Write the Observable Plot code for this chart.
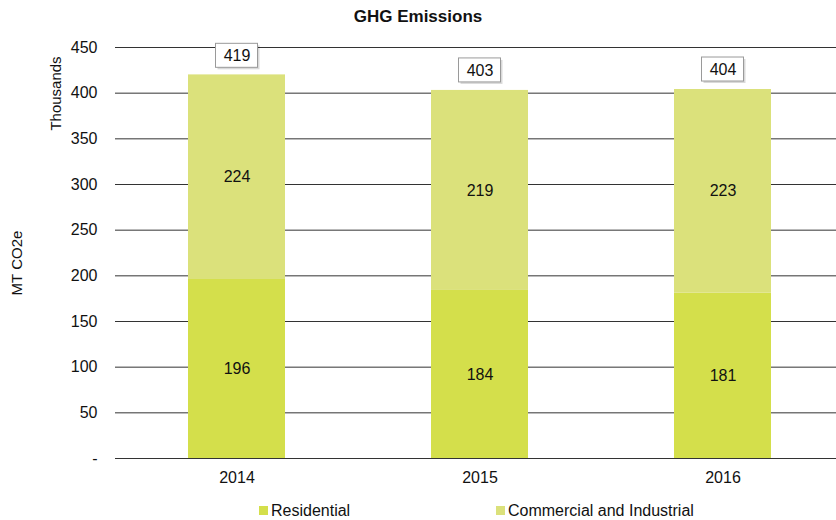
<!DOCTYPE html>
<html>
<head>
<meta charset="utf-8">
<script src="https://cdn.jsdelivr.net/npm/d3@7"></script>
<script src="https://cdn.jsdelivr.net/npm/@observablehq/plot@0.6"></script>
<style>
  html, body { margin: 0; padding: 0; background: #fff; }
  body { width: 836px; height: 520px; position: relative; overflow: hidden;
         font-family: "Liberation Sans", Arial, sans-serif; color: #111; }
  #title { position: absolute; left: 0; top: 6px; width: 836px; text-align: center;
           font-weight: bold; font-size: 17px; line-height: 22px; }
  #chart { position: absolute; left: 0; top: 32px; }
  #legend { position: absolute; left: 0; top: 500px; width: 836px; font-size: 16px; line-height: 22px; }
  .item { position: absolute; top: 0; white-space: nowrap; }
  .sw { display: inline-block; width: 9px; height: 9px; margin-right: 3px; vertical-align: 1px; }
</style>
</head>
<body>
<div id="title">GHG Emissions</div>
<div id="chart"></div>
<div id="legend"></div>
<script>
const years = ["2014", "2015", "2016"];
const residential = [196, 184, 181];
const commercial = [224, 219, 223];
const totals = [419, 403, 404];
const seriesNames = ["Residential", "Commercial and Industrial"];
const seriesColors = ["#d4df4b", "#dbe17b"];
const yTicks = [0, 50, 100, 150, 200, 250, 300, 350, 400, 450];

const rows = [];
years.forEach((year, i) => {
  rows.push({year, series: seriesNames[0], value: residential[i], mid: residential[i] / 2});
  rows.push({year, series: seriesNames[1], value: commercial[i], mid: residential[i] + commercial[i] / 2});
});
const totalRows = years.map((year, i) => ({year, total: totals[i]}));

const font = "Liberation Sans, Arial, sans-serif";
const boxInset = 27.5;

const chart = Plot.plot({
  width: 836,
  height: 460,
  marginTop: 15,
  marginBottom: 34,
  marginLeft: 115,
  marginRight: 0,
  style: {fontFamily: font, fontSize: "16px", color: "#111", background: "#fff"},
  x: {domain: years, range: [115, 844], paddingInner: 0.6, paddingOuter: 0.3, label: null, tickSize: 0, tickPadding: 13},
  y: {domain: [0, 450], ticks: yTicks, label: null, tickSize: 0, tickPadding: 18,
      tickFormat: d => d === 0 ? "-" : String(d)},
  color: {domain: seriesNames, range: seriesColors},
  marks: [
    Plot.ruleY(yTicks, {stroke: "#333", strokeWidth: 1}),
    Plot.barY(rows, {x: "year", y: "value", fill: "series", order: seriesNames}),
    Plot.text(rows, {x: "year", y: "mid", text: d => String(d.value), fill: "#111"}),
    // boxed totals above each column
    Plot.barY(totalRows, {x: "year", y1: "total", y2: "total", insetLeft: boxInset, insetRight: boxInset,
      insetTop: -12, insetBottom: -12, dx: 2, dy: -18, fill: "#000", fillOpacity: 0.15}),
    Plot.barY(totalRows, {x: "year", y1: "total", y2: "total", insetLeft: boxInset, insetRight: boxInset,
      insetTop: -12, insetBottom: -12, dy: -20, fill: "#fff", stroke: "#9a9a9a", strokeWidth: 1}),
    Plot.text(totalRows, {x: "year", y: "total", dy: -20, text: d => String(d.total), fill: "#111"}),
    // axis titles
    Plot.text(["MT CO2e"], {frameAnchor: "left", textAnchor: "middle", text: d => d, rotate: -90,
      dx: -98, dy: 10, fill: "#111", fontSize: 15}),
    Plot.text(["Thousands"], {frameAnchor: "top-left", textAnchor: "middle", text: d => d, rotate: -90,
      dx: -65, dy: 46, fill: "#111", fontSize: 15})
  ]
});
document.getElementById("chart").appendChild(chart);

// legend
const legend = document.getElementById("legend");
const legendX = [259, 496];
seriesNames.forEach((name, i) => {
  const item = document.createElement("div");
  item.className = "item";
  item.style.left = legendX[i] + "px";
  const sw = document.createElement("span");
  sw.className = "sw";
  sw.style.background = seriesColors[i];
  item.appendChild(sw);
  item.appendChild(document.createTextNode(name));
  legend.appendChild(item);
});
</script>
</body>
</html>
